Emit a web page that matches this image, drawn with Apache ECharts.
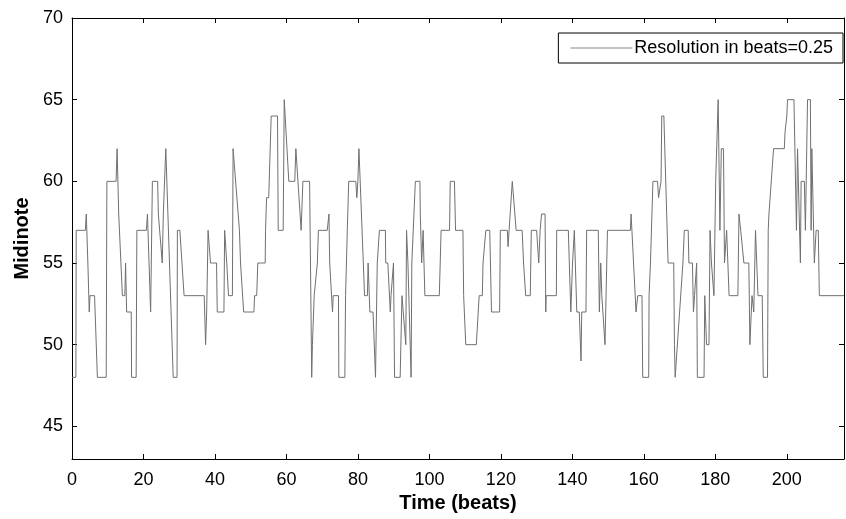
<!DOCTYPE html>
<html>
<head>
<meta charset="utf-8">
<script src="https://cdn.jsdelivr.net/npm/echarts@6/dist/echarts.min.js"></script>
<style>html,body{margin:0;padding:0;background:#fff}#c{width:846px;height:519px}</style>
</head>
<body>
<div id="c"></div>
<script>
var beats = [
0,1.08,1.18,3.75,4.0,4.44,4.68,4.83,5.03,6.31,7.1,9.57,9.76,12.33,12.62,12.92,13.07,14.1,14.79,14.99,15.19,15.29,16.57,16.67,17.95,18.15,20.81,
21.11,22.0,22.29,22.49,23.97,24.16,24.56,25.25,25.55,26.04,26.24,26.63,28.31,29.39,29.49,30.18,31.36,36.99,37.38,37.68,38.07,38.76,40.44,40.64,42.51,
42.71,43.2,43.3,43.69,43.79,44.88,45.07,45.47,46.85,47.15,48.03,50.89,51.09,51.68,51.98,54.05,54.15,54.35,54.44,55.04,55.73,57.5,57.7,59.08,59.38,59.57,60.66,62.33,62.63,64.11,
64.21,64.6,66.48,67.07,67.27,67.76,68.65,68.94,71.41,71.9,72.1,72.59,72.89,73.08,74.56,74.66,76.34,76.54,76.93,77.03,77.42,79.4,79.69,79.99,80.28,80.78,81.86,82.65,82.85,83.15,83.34,84.23,84.92,85.41,
85.81,86.01,87.68,87.78,88.37,89.06,89.26,89.75,89.95,90.15,90.25,91.82,92.32,93.4,93.6,93.9,93.99,94.39,94.88,95.08,96.07,97.35,97.45,97.64,97.84,98.24,98.53,98.73,102.77,103.27,105.63,105.83,107.01,107.21,
107.31,109.38,109.58,109.87,110.17,113.13,113.92,114.81,115.0,115.5,115.79,116.88,117.37,119.64,119.84,121.81,122.0,122.3,123.19,123.58,124.27,125.95,126.34,126.94,128.22,128.51,
130.0,130.59,130.98,131.18,131.38,132.36,132.56,132.66,135.52,135.62,138.87,139.56,140.05,140.55,141.04,141.24,141.93,142.42,142.62,143.8,144.0,147.25,147.55,147.94,148.24,149.13,149.42,149.82,
156.23,156.43,156.92,157.12,157.61,157.81,158.3,159.48,159.68,161.36,161.46,161.85,162.54,163.82,164.12,164.42,164.81,165.01,165.6,166.78,168.36,168.56,168.76,170.93,171.32,
172.41,172.6,173.59,173.88,174.18,174.48,174.77,174.97,176.84,177.04,177.34,177.53,178.22,178.52,178.91,179.41,179.61,180.1,180.49,180.79,180.99,181.28,181.68,182.27,182.37,182.56,182.86,183.16,183.35,183.85,186.31,186.61,187.1,187.5,187.99,189.37,189.67,190.06,190.26,190.75,191.24,191.64,191.93,193.12,193.41,
194.6,194.8,195.0,195.5,196.3,199.3,199.5,200.0,200.2,202.0,202.7,203.0,203.5,203.8,204.0,204.9,205.2,205.6,205.8,206.6,206.8,207.0,207.5,207.7,208.2,208.8,209.1,216
];
var midinote = [
48,48,57,57,58,55,55,52,53,53,48,48,60,60,62,62,58,53,53,55,55,52,52,48,48,57,57,
58,52,52,60,60,58,58,55,58,58,62,62,48,48,57,57,53,53,50,52,57,55,55,52,52,
57,57,55,55,53,53,62,62,57,55,52,52,53,53,55,55,57,57,59,59,64,64,57,57,65,65,60,60,62,57,
57,60,60,48,50,53,55,57,57,58,55,55,52,53,53,48,48,53,53,57,60,60,59,60,62,62,53,53,55,55,52,52,48,55,
55,57,57,55,55,52,53,53,55,55,48,48,53,50,57,57,55,55,48,55,60,60,58,58,55,57,57,53,53,57,57,60,60,58,
57,57,53,53,50,50,53,53,55,55,57,57,52,52,57,57,56,57,60,60,57,57,55,53,53,57,
57,55,57,57,58,58,52,53,53,57,57,52,55,57,57,52,52,49,52,52,57,57,52,55,53,50,50,57,
57,58,58,55,55,52,53,53,48,48,53,55,60,60,59,59,60,64,64,55,55,50,48,55,57,
57,55,55,52,53,53,55,48,48,53,53,50,50,57,55,55,53,60,60,65,65,57,62,62,60,55,55,57,57,53,53,58,57,57,55,55,50,50,53,52,57,57,53,53,48,
48,57,58,58,62,62,63,64,65,65,57,62,62,55,60,60,57,57,65,65,57,62,62,55,57,57,53,53
];
var xTicks = [0,20,40,60,80,100,120,140,160,180,200];
var yTicks = [45,50,55,60,65,70];
var seriesName = 'Resolution in beats=0.25';
var xName = 'Time (beats)';
var yName = 'Midinote';

var pts = beats.map(function(b,i){ return [b, midinote[i]]; });
var FONT = 'Liberation Sans, Arial, sans-serif';
var chart = echarts.init(document.getElementById('c'), null, {renderer:'canvas'});
function xAx(pos, labels){
  return {
    type:'value', position:pos, min:0, max:216,
    name: labels ? xName : '', nameLocation:'middle', nameGap:30,
    nameTextStyle:{fontFamily:FONT, fontSize:20, fontWeight:'bold', color:'#000'},
    axisLine:{show:true, onZero:false, lineStyle:{color:'#000', width:1}},
    axisTick:{show:true, inside:true, length:5, customValues:xTicks, lineStyle:{color:'#000'}},
    axisLabel:{show:labels, customValues:xTicks, fontFamily:FONT, fontSize:18, color:'#000', margin:12},
    splitLine:{show:false}
  };
}
function yAx(pos, labels){
  return {
    type:'value', position:pos, min:43, max:70,
    name: labels ? yName : '', nameLocation:'middle', nameGap:40,
    nameTextStyle:{fontFamily:FONT, fontSize:20, fontWeight:'bold', color:'#000'},
    axisLine:{show:true, onZero:false, lineStyle:{color:'#000', width:1}},
    axisTick:{show:true, inside:true, length:5, customValues:yTicks, lineStyle:{color:'#000'}},
    axisLabel:{show:labels, customValues:yTicks, fontFamily:FONT, fontSize:18, color:'#000', margin:9},
    splitLine:{show:false}
  };
}
chart.setOption({
  animation:false,
  backgroundColor:'#fff',
  grid:{left:72, top:18, right:2, bottom:60},
  legend:{
    show:true, right:3, top:33, orient:'horizontal',
    backgroundColor:'#fff', borderColor:'#000', borderWidth:1,
    padding:[6,10,6,12], itemWidth:62, itemHeight:10, itemGap:4,
    textStyle:{fontFamily:FONT, fontSize:18, color:'#000', padding:[0,0,0,-3]},
    data:[{name:seriesName, icon:'path://M0,5L60,5L60,5.8L0,5.8Z', itemStyle:{color:'#888'}}]
  },
  xAxis:[xAx('bottom', true), xAx('top', false)],
  yAxis:[yAx('left', true), yAx('right', false)],
  series:[{
    name:seriesName, type:'line', xAxisIndex:0, yAxisIndex:0,
    data:pts, showSymbol:false, symbol:'none',
    lineStyle:{color:'#707070', width:1}, itemStyle:{color:'#707070'}
  }]
});
</script>
</body>
</html>
